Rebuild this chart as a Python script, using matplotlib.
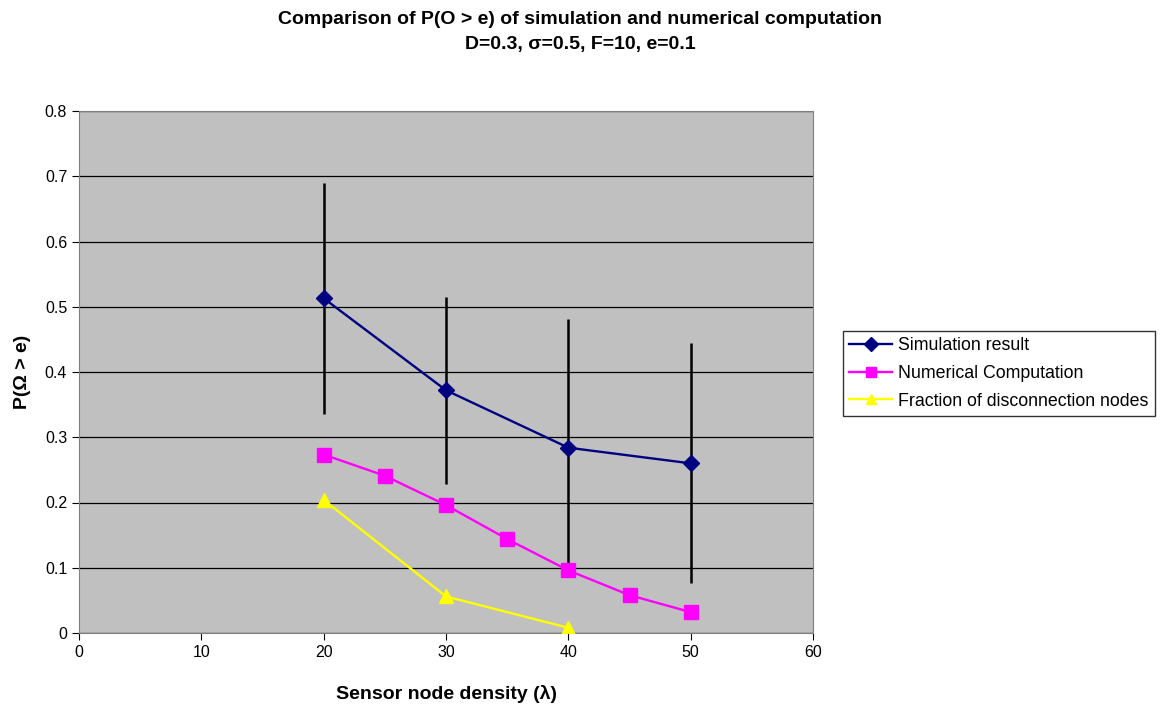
import matplotlib
matplotlib.use("Agg")
import matplotlib.pyplot as plt
from matplotlib.ticker import MultipleLocator

plt.rcParams['font.family'] = ['Liberation Sans', 'DejaVu Sans']

# Data
sim_x = [20, 30, 40, 50]
sim_y = [0.513, 0.372, 0.284, 0.260]
sim_err = [0.177, 0.143, 0.197, 0.184]

num_x = [20, 25, 30, 35, 40, 45, 50]
num_y = [0.2735, 0.241, 0.196, 0.144, 0.096, 0.058, 0.032]

frac_x = [20, 30, 40]
frac_y = [0.204, 0.056, 0.008]

title = "Comparison of P(O > e) of simulation and numerical computation\nD=0.3, σ=0.5, F=10, e=0.1"
xlabel = "Sensor node density (λ)"
ylabel = "P(Ω > e)"

fig = plt.figure(figsize=(11.61, 7.07), dpi=100)
ax = fig.add_axes([79/1161, 1 - 633/707, (813-79)/1161, (633-111)/707])
ax.set_facecolor('#C0C0C0')

ax.set_xlim(0, 60)
ax.set_ylim(0, 0.8)
ax.xaxis.set_major_locator(MultipleLocator(10))
ax.yaxis.set_major_locator(MultipleLocator(0.1))
ax.yaxis.grid(True, color='black', linewidth=0.9)
ax.set_axisbelow(True)

ax.errorbar(sim_x, sim_y, yerr=sim_err, fmt='none', ecolor='black', elinewidth=1.8, capsize=0, zorder=3)
ax.plot(sim_x, sim_y, color='#000080', linewidth=1.7, marker='D', markersize=8,
        markerfacecolor='#000080', markeredgecolor='#000080', label='Simulation result', zorder=4)
ax.plot(num_x, num_y, color='#FF00FF', linewidth=1.7, marker='s', markersize=9.5,
        markerfacecolor='#FF00FF', markeredgecolor='#FF00FF', label='Numerical Computation', zorder=4)
ax.plot(frac_x, frac_y, color='#FFFF00', linewidth=1.7, marker='^', markersize=10,
        markerfacecolor='#FFFF00', markeredgecolor='#FFFF00', label='Fraction of disconnection nodes', zorder=4)

for s in ax.spines.values():
    s.set_color('#808080')
ax.tick_params(axis='both', direction='out', length=5, color='black', labelsize=11.5)
ax.set_yticklabels(['0' if abs(v) < 1e-9 else f'{v:.1f}' for v in ax.get_yticks()])

ax.set_xlabel(xlabel, fontsize=14, fontweight='bold', labelpad=18)
ax.set_ylabel(ylabel, fontsize=14, fontweight='bold', labelpad=10)
fig.text(0.5, 1 - 32/707, title, ha='center', va='center',
         fontsize=14, fontweight='bold', linespacing=1.6)

leg = ax.legend(loc='upper left', bbox_to_anchor=(843/1161, 1 - 331/707), bbox_transform=fig.transFigure,
                fontsize=12.8, frameon=True, fancybox=False, edgecolor='black', borderpad=0.35,
                labelspacing=0.6, handlelength=2.4, handletextpad=0.35, borderaxespad=0)
leg.get_frame().set_linewidth(1)
for h in leg.get_lines():
    h.set_markersize(7)

fig.savefig('out.png', dpi=100, facecolor='white')
